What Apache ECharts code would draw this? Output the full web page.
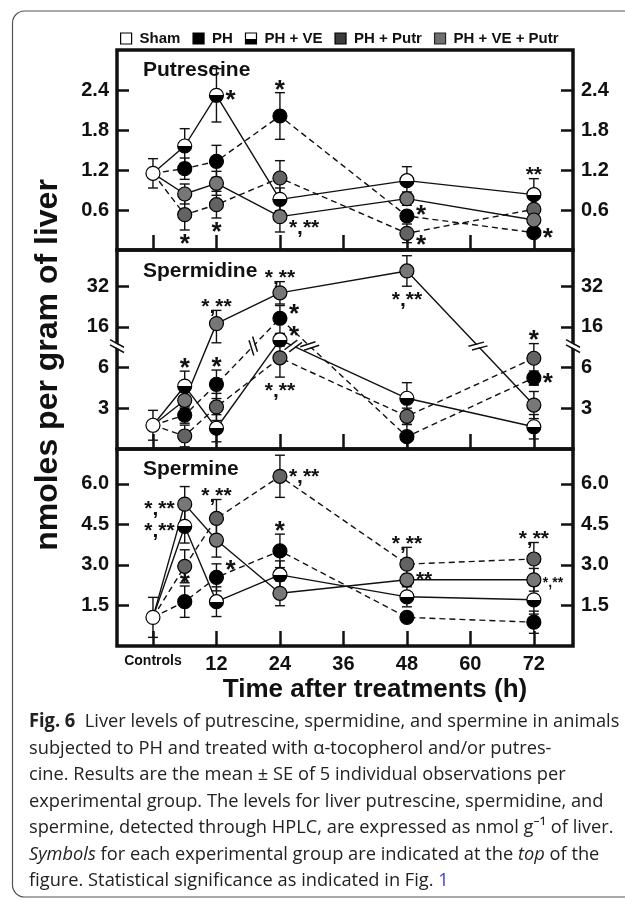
<!DOCTYPE html>
<html><head><meta charset="utf-8">
<script src="https://cdn.jsdelivr.net/npm/echarts@6/dist/echarts.min.js"></script>
<style>html,body{margin:0;padding:0;background:#fff}#c{width:625px;height:900px}</style>
</head><body><div id="c"></div><script>
// ---------------- DATA ----------------
const times = [6, 12, 24, 48, 72];
const xTickValues = [0, 12, 24, 36, 48, 60, 72];
const xTickLabels = ['Controls', '12', '24', '36', '48', '60', '72'];
const groups = ['PH', 'PH + VE', 'PH + Putr', 'PH + VE + Putr'];

// Putrescine (nmol/g)
const putControl = [1.15];                          const putControlSE = [0.22];
const putPH = [1.22, 1.33, 2.01, 0.51, 0.26];       const putPH_SE = [0.16, 0.24, 0.35, 0.08, 0.05];
const putPHVE = [1.56, 2.32, 0.76, 1.04, 0.83];     const putPHVE_SE = [0.26, 0.40, 0.17, 0.21, 0.24];
const putPHPutr = [0.53, 0.68, 1.08, 0.25, 0.61];   const putPHPutr_SE = [0.23, 0.20, 0.26, 0.14, 0.05];
const putPHVEPutr = [0.84, 1.00, 0.50, 0.77, 0.45]; const putPHVEPutr_SE = [0.15, 0.18, 0.23, 0.10, 0.05];
const putTicks = [0.6, 1.2, 1.8, 2.4];

// Spermidine (nmol/g) - broken axis
const spdControl = [1.75];                          const spdControlSE = [1.1];
const spdPH = [2.5, 4.77, 19.4, 0.91, 5.25];        const spdPH_SE = [0.6, 1.05, 5.0, 0.9, 0.5];
const spdPHVE = [4.64, 1.53, 12.8, 3.74, 1.64];     const spdPHVE_SE = [1.1, 1.0, 1.5, 1.15, 0.9];
const spdPHPutr = [0.96, 3.1, 8.4, 2.41, 8.3];      const spdPHPutr_SE = [0.8, 1.0, 3.1, 0.6, 3.6];
const spdPHVEPutr = [3.59, 17.3, 29.4, 38, 3.24];   const spdPHVEPutr_SE = [0.6, 5.2, 4.4, 6.0, 1.0];
const spdTicks = [3, 6, 16, 32];

// Spermine (nmol/g)
const spmControl = [1.06];                          const spmControlSE = [0.74];
const spmPH = [1.64, 2.54, 3.52, 1.06, 0.88];       const spmPH_SE = [0.58, 0.50, 0.62, 0.15, 0.41];
const spmPHVE = [4.43, 1.64, 2.63, 1.82, 1.71];     const spmPHVE_SE = [0.62, 0.55, 0.52, 0.37, 0.53];
const spmPHPutr = [2.95, 4.72, 6.28, 3.03, 3.22];   const spmPHPutr_SE = [0.61, 0.70, 0.78, 0.62, 0.61];
const spmPHVEPutr = [5.25, 3.92, 1.95, 2.45, 2.45]; const spmPHVEPutr_SE = [0.65, 0.63, 0.46, 0.20, 0.42];
const spmTicks = [1.5, 3.0, 4.5, 6.0];

// significance annotations: [group, time, text]
const putAnnText = [['PH + Putr',6,'*'],['PH + VE',12,'*'],['PH + Putr',12,'*'],['PH',24,'*'],['PH + VE + Putr',24,'*,**'],['PH',48,'*'],['PH + Putr',48,'*'],['PH + VE',72,'**'],['PH',72,'*']];
const spdAnnText = [['PH + VE',6,'*'],['PH + VE + Putr',12,'*,**'],['PH',12,'*'],['PH + VE + Putr',24,'*,**'],['PH',24,'*'],['PH + VE',24,'*'],['PH + Putr',24,'*,**'],['PH + VE + Putr',48,'*,**'],['PH + Putr',72,'*'],['PH',72,'*']];
const spmAnnText = [['PH + VE + Putr',6,'*,**'],['PH + VE',6,'*,**'],['PH',6,'*'],['PH + Putr',12,'*,**'],['PH',12,'*'],['PH + Putr',24,'*,**'],['PH',24,'*'],['PH + Putr',48,'*,**'],['PH + VE + Putr',48,'**'],['PH + Putr',72,'*,**'],['PH + VE + Putr',72,'*,**']];

// ---------------- LAYOUT / STYLE (not data) ----------------
// placement of each annotation: [where, dy(px), size]
const putAnnPlace = [['bottom'],['right',0],['bottom'],['top'],['right',7],['right',-6],['right',7],['top'],['right',0]];
const spdAnnPlace = [['top'],['top'],['top'],['top'],['right',-9],['right',-9],['bottom'],['bottom'],['top'],['right',0]];
const spmAnnPlace = [['left',0],['left',0],['top'],['top'],['right',-12],['right',-4],['top'],['top'],['right',-4],['top'],['right',0,14]];

const FONT = '"Liberation Sans", Arial, Helvetica, sans-serif';
const INK = '#111';
const X_MIN = -6.8, X_MAX = 79.4;
const halfFill = () => new echarts.graphic.LinearGradient(0,0,0,1,[{offset:0,color:'#fff'},{offset:0.5,color:'#fff'},{offset:0.5,color:'#000'},{offset:1,color:'#000'}]);
const groupStyle = {
  'PH': {fill: '#000', dash: [6, 4]},
  'PH + VE': {fill: halfFill(), dash: 'solid'},
  'PH + Putr': {fill: '#636363', dash: [6, 4]},
  'PH + VE + Putr': {fill: '#777', dash: 'solid'}
};

function spdPos(v) { // broken-axis mapping: 0-6 linear, 6-16 compressed, 16+ linear
  if (v <= 6) return v / 3;
  if (v <= 16) return 2 + (v - 6) / 10;
  return 3 + (v - 16) / 16;
}
const BREAK_POS = 2.53;

const panels = [
  {title:'Putrescine', control:putControl[0], controlSE:putControlSE[0], ticks:putTicks, max:3.0, pos:v=>v, lab:v=>v.toFixed(1),
   data:{'PH':[putPH,putPH_SE],'PH + VE':[putPHVE,putPHVE_SE],'PH + Putr':[putPHPutr,putPHPutr_SE],'PH + VE + Putr':[putPHVEPutr,putPHVEPutr_SE]},
   annText:putAnnText, annPlace:putAnnPlace, grid:{top:50,height:200}, titleY:70},
  {title:'Spermidine', control:spdControl[0], controlSE:spdControlSE[0], ticks:spdTicks, max:4.89, pos:spdPos, lab:v=>String(v),
   data:{'PH':[spdPH,spdPH_SE],'PH + VE':[spdPHVE,spdPHVE_SE],'PH + Putr':[spdPHPutr,spdPHPutr_SE],'PH + VE + Putr':[spdPHVEPutr,spdPHVEPutr_SE]},
   annText:spdAnnText, annPlace:spdAnnPlace, grid:{top:250,height:199}, titleY:271},
  {title:'Spermine', control:spmControl[0], controlSE:spmControlSE[0], ticks:spmTicks, max:7.29, pos:v=>v, lab:v=>v.toFixed(1),
   data:{'PH':[spmPH,spmPH_SE],'PH + VE':[spmPHVE,spmPHVE_SE],'PH + Putr':[spmPHPutr,spmPHPutr_SE],'PH + VE + Putr':[spmPHVEPutr,spmPHVEPutr_SE]},
   annText:spmAnnText, annPlace:spmAnnPlace, grid:{top:449,height:197}, titleY:469}
];

const grid = [], xAxis = [], yAxis = [], series = [];
panels.forEach((P, i) => {
  grid.push({left:117, width:456, top:P.grid.top, height:P.grid.height, show:true, borderColor:INK, borderWidth:3.5, backgroundColor:'transparent'});
  xAxis.push({type:'value', gridIndex:i, position:'bottom', min:X_MIN, max:X_MAX, splitLine:{show:false}, axisLine:{show:false, onZero:false},
    axisTick:{show:true, inside:true, length:15, lineStyle:{color:INK, width:2.5}, customValues:xTickValues},
    axisLabel:{show:i===2, customValues:xTickValues, margin:8, color:INK,
      formatter:v=>{const k=xTickValues.indexOf(v); return k===0?'{c|'+xTickLabels[k]+'}':'{n|'+xTickLabels[k]+'}';},
      rich:{c:{fontFamily:FONT,fontWeight:'bold',fontSize:14,color:INK,padding:[0,0,4,0]},n:{fontFamily:FONT,fontWeight:'bold',fontSize:20,color:INK}}}});
  const tickPos = P.ticks.map(P.pos);
  ['left','right'].forEach(side => {
    yAxis.push({type:'value', gridIndex:i, position:side, min:0, max:P.max, splitLine:{show:false}, axisLine:{show:false, onZero:false},
      axisTick:{show:true, inside:true, length:12, lineStyle:{color:INK, width:2.5}, customValues:tickPos},
      axisLabel:{customValues:tickPos, margin:8, fontFamily:FONT, fontWeight:'bold', fontSize:20, color:INK,
        formatter:v=>{const k=tickPos.findIndex(p=>Math.abs(p-v)<1e-6); return k<0?'':P.lab(P.ticks[k]);}}});
  });
  const xa = i, ya = 2 * i;
  const cpos = P.pos(P.control);
  // error bars
  const errRows = [[0, cpos, P.pos(Math.max(0, P.control - P.controlSE)), P.pos(P.control + P.controlSE)]];
  groups.forEach(g => {
    const [vals, se] = P.data[g];
    times.forEach((t, k) => errRows.push([t, P.pos(vals[k]), P.pos(Math.max(0, vals[k] - se[k])), P.pos(vals[k] + se[k])]));
  });
  series.push({type:'custom', xAxisIndex:xa, yAxisIndex:ya, data:errRows, z:2, silent:true, clip:false,
    renderItem:(params, api) => {
      const x = api.value(0);
      const lo = api.coord([x, api.value(2)]), hi = api.coord([x, api.value(3)]);
      const w = 5, st = {stroke:INK, lineWidth:1.4};
      return {type:'group', children:[
        {type:'line', shape:{x1:lo[0],y1:lo[1],x2:hi[0],y2:hi[1]}, style:st},
        {type:'line', shape:{x1:lo[0]-w,y1:lo[1],x2:lo[0]+w,y2:lo[1]}, style:st},
        {type:'line', shape:{x1:hi[0]-w,y1:hi[1],x2:hi[0]+w,y2:hi[1]}, style:st}]};
    }});
  // lines
  groups.forEach(g => {
    const vals = P.data[g][0];
    series.push({type:'line', name:g, xAxisIndex:xa, yAxisIndex:ya, data:[[0, cpos]].concat(times.map((t,k)=>[t, P.pos(vals[k])])),
      symbol:'none', showSymbol:false, silent:true, z:3, lineStyle:{color:INK, width:1.4, type:groupStyle[g].dash}});
  });
  // axis / line break marks (spermidine)
  if (i === 1) {
    const marks = [[X_MIN, BREAK_POS, X_MIN, BREAK_POS + 1], [X_MAX, BREAK_POS, X_MAX, BREAK_POS + 1]];
    groups.forEach(g => {
      const vals = P.data[g][0];
      const pts = [[0, cpos]].concat(times.map((t,k)=>[t, P.pos(vals[k])]));
      for (let k = 0; k < pts.length - 1; k++) {
        const a = pts[k], b = pts[k+1];
        if ((a[1] - BREAK_POS) * (b[1] - BREAK_POS) < 0) {
          const f = (BREAK_POS - a[1]) / (b[1] - a[1]);
          const xc = a[0] + f * (b[0] - a[0]);
          if (Math.min(Math.abs(xc - a[0]), Math.abs(xc - b[0])) > 2) marks.push([xc, BREAK_POS, b[0], b[1]]);
        }
      }
    });
    series.push({type:'custom', xAxisIndex:xa, yAxisIndex:ya, data:marks, z:4, silent:true, clip:false,
      renderItem:(params, api) => {
        const c = api.coord([api.value(0), api.value(1)]);
        const c2 = api.coord([api.value(2), api.value(3)]);
        let ux = c2[0]-c[0], uy = c2[1]-c[1]; const L = Math.hypot(ux, uy) || 1; ux /= L; uy /= L;
        const nx = -uy, ny = ux, an = 0.5, cs = Math.cos(an), sn = Math.sin(an);
        const tx = nx*cs - ny*sn, ty = nx*sn + ny*cs;
        const half = 8, gap = 2.6;
        const p = (s, t) => [c[0] + ux*s + tx*t, c[1] + uy*s + ty*t];
        const A1 = p(-gap,-half), A2 = p(-gap,half), B1 = p(gap,-half), B2 = p(gap,half);
        const st = {stroke:INK, lineWidth:1.5};
        return {type:'group', children:[
          {type:'polygon', shape:{points:[p(-gap+0.8,-half*0.8), p(-gap+0.8,half*0.8), p(gap-0.8,half*0.8), p(gap-0.8,-half*0.8)]}, style:{fill:'#fff'}},
          {type:'line', shape:{x1:A1[0],y1:A1[1],x2:A2[0],y2:A2[1]}, style:st},
          {type:'line', shape:{x1:B1[0],y1:B1[1],x2:B2[0],y2:B2[1]}, style:st}]};
      }});
  }
  // markers
  groups.forEach(g => {
    const vals = P.data[g][0];
    series.push({type:'scatter', name:g, xAxisIndex:xa, yAxisIndex:ya, data:times.map((t,k)=>[t, P.pos(vals[k])]),
      symbol:'circle', symbolSize:14, silent:true, z:5,
      itemStyle:{color:groupStyle[g].fill, borderColor:'#000', borderWidth:1.2, opacity:1}});
  });
  series.push({type:'scatter', name:'Sham', xAxisIndex:xa, yAxisIndex:ya, data:[[0, cpos]], symbol:'circle', symbolSize:14, silent:true, z:6,
    itemStyle:{color:'#fff', borderColor:'#000', borderWidth:1.2, opacity:1}});
  // annotations
  const annRows = P.annText.map(([g, t]) => {
    const k = times.indexOf(t); const v = P.data[g][0][k], se = P.data[g][1][k];
    return [t, P.pos(v), P.pos(Math.max(0, v - se)), P.pos(v + se)];
  });
  series.push({type:'custom', xAxisIndex:xa, yAxisIndex:ya, data:annRows, z:7, silent:true, clip:false,
    renderItem:(params, api) => {
      const txt = P.annText[params.dataIndex][2];
      const pl = P.annPlace[params.dataIndex];
      const where = pl[0], dy = pl[1] || 0;
      const size = pl[2] || (txt === '*' ? 26 : 21);
      const x = api.value(0);
      const c = api.coord([x, api.value(1)]), lo = api.coord([x, api.value(2)]), hi = api.coord([x, api.value(3)]);
      const gOff = size * 0.22;
      let tx = c[0], ty = c[1], align = 'center';
      if (where === 'top') { ty = hi[1] - 8 + gOff; }
      else if (where === 'bottom') { ty = lo[1] + 9 + gOff; }
      else if (where === 'right') { tx = c[0] + 9; ty = c[1] + dy + gOff; align = 'left'; }
      else { tx = c[0] - 10; ty = c[1] + dy + gOff; align = 'right'; }
      return {type:'text', x:tx, y:ty, style:{text:txt, fill:INK, font:'bold ' + size + 'px ' + FONT, textAlign:align, textVerticalAlign:'middle'}};
    }});
});

// caption
const captionLines = [
  '{b|Fig. 6}  Liver levels of putrescine, spermidine, and spermine in animals',
  'subjected to PH and treated with α-tocopherol and/or putres-',
  'cine. Results are the mean ± SE of 5 individual observations per',
  'experimental group. The levels for liver putrescine, spermidine, and',
  'spermine, detected through HPLC, are expressed as nmol g⁻¹ of liver.',
  '{i|Symbols} for each experimental group are indicated at the {i|top} of the',
  'figure. Statistical significance as indicated in Fig. {l|1}'
];
const CAP_FONT = '"Open Sans", "Noto Sans", "DejaVu Sans", sans-serif';
const CAP_SIZE = 19;
const mctx = document.createElement('canvas').getContext('2d');
mctx.font = CAP_SIZE + 'px ' + CAP_FONT;
const capW = mctx.measureText('Fig. 6  Liver levels of putrescine, spermidine, and spermine in animals').width;
const capScale = 588 / capW;

const graphic = [
  {type:'rect', shape:{x:12.5, y:11, width:700, height:886, r:12}, style:{fill:'none', stroke:'#555', lineWidth:1.2}, silent:true},
  {type:'text', x:48, y:365, rotation:Math.PI/2, style:{text:'nmoles per gram of liver', font:'bold 32px ' + FONT, fill:INK, textAlign:'center', textVerticalAlign:'middle'}},
  {type:'text', x:375, y:690, style:{text:'Time after treatments (h)', font:'bold 26px ' + FONT, fill:INK, textAlign:'center', textVerticalAlign:'middle'}}
];
panels.forEach(P => graphic.push({type:'text', x:143, y:P.titleY, style:{text:P.title, font:'bold 21px ' + FONT, fill:INK, textAlign:'left', textVerticalAlign:'middle'}}));
captionLines.forEach((ln, k) => graphic.push({type:'text', x:29, y:722 + k * 26.5, scaleX:capScale, scaleY:1,
  style:{text:ln, font:CAP_SIZE + 'px ' + CAP_FONT, fill:'#222', textAlign:'left', textVerticalAlign:'middle',
    rich:{b:{fontWeight:'bold', fontSize:CAP_SIZE, fontFamily:CAP_FONT, fill:'#222'}, i:{fontStyle:'italic', fontSize:CAP_SIZE, fontFamily:CAP_FONT, fill:'#222'}, l:{fill:'#3a3ad8', fontSize:CAP_SIZE, fontFamily:CAP_FONT}}}}));

const chart = echarts.init(document.getElementById('c'), null, {renderer:'canvas'});
chart.setOption({
  animation:false,
  backgroundColor:'#fff',
  legend:{top:31, left:120, itemWidth:11, itemHeight:11, itemGap:12, selectedMode:false, padding:0,
    textStyle:{fontFamily:FONT, fontWeight:'bold', fontSize:15, color:INK, padding:[0,0,0,3]},
    data:[
      {name:'Sham', icon:'rect', itemStyle:{color:'#fff', borderColor:'#000', borderWidth:1.2}},
      {name:'PH', icon:'rect', itemStyle:{color:'#000', borderColor:'#000', borderWidth:1.2}},
      {name:'PH + VE', icon:'rect', itemStyle:{color:halfFill(), borderColor:'#000', borderWidth:1.2}},
      {name:'PH + Putr', icon:'rect', itemStyle:{color:'#3c3c3c', borderColor:'#000', borderWidth:1.2}},
      {name:'PH + VE + Putr', icon:'rect', itemStyle:{color:'#707070', borderColor:'#222', borderWidth:1.2}}
    ]},
  grid, xAxis, yAxis, series, graphic
});
</script></body></html>
